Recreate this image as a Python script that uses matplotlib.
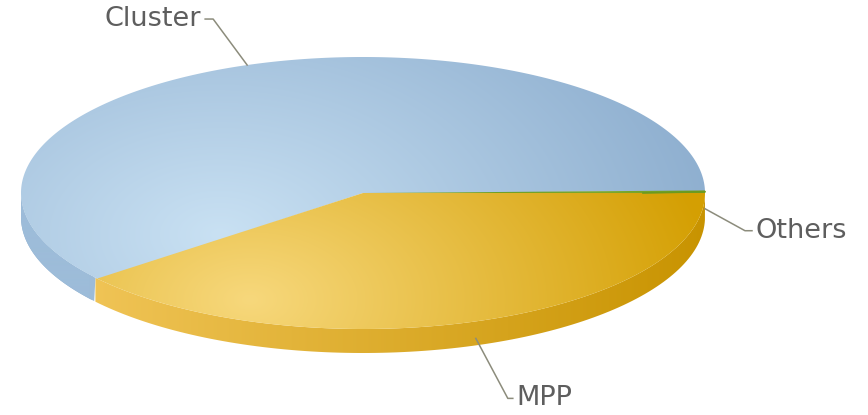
import matplotlib
matplotlib.use('Agg')
import matplotlib.pyplot as plt
import numpy as np
from matplotlib.path import Path
from matplotlib.patches import PathPatch
from matplotlib.colors import to_rgb

# data (drawn clockwise from 3 o'clock)
labels = ['MPP', 'Cluster', 'Others']
values = [39.3, 60.4, 0.3]

# look of each slice: top light, top dark, side light, side dark
top_light = {'MPP': '#f7d87c', 'Cluster': '#c9e1f3', 'Others': '#7aa82c'}
top_dark = {'MPP': '#d49f02', 'Cluster': '#8cadce', 'Others': '#5f8f1a'}
side_light = {'MPP': '#f0c456', 'Cluster': '#9dbcd9', 'Others': '#5f8f1a'}
side_dark = {'MPP': '#c89300', 'Cluster': '#86a7c8', 'Others': '#4f7f10'}

W, H = 868, 415
cx, cy, rx, ry, depth = 363, 193, 342, 136, 24

fig = plt.figure(figsize=(W / 100, H / 100), dpi=100)
ax = fig.add_axes([0, 0, 1, 1])
ax.set_xlim(0, W)
ax.set_ylim(H, 0)
ax.axis('off')

xx, yy = np.meshgrid(np.arange(W) + 0.5, np.arange(H) + 0.5)


def ell(theta, dy=0):
    t = np.radians(theta)
    return cx + rx * np.cos(t), cy - ry * np.sin(t) + dy


def fill_grad(verts, c1, c2, t, z):
    path = Path(verts, closed=True)
    patch = PathPatch(path, facecolor='none', edgecolor='none')
    ax.add_patch(patch)
    t = np.clip(t, 0, 1)[..., None]
    img = (1 - t) * np.array(to_rgb(c1)) + t * np.array(to_rgb(c2))
    im = ax.imshow(img, extent=(0, W, H, 0), zorder=z, interpolation='bilinear')
    im.set_clip_path(patch)
    ax.set_xlim(0, W)
    ax.set_ylim(H, 0)


# angles of slices
bounds = []
start = 0.0
tot = sum(values)
for v in values:
    end = start - 360.0 * v / tot
    bounds.append((start, end))
    start = end

# side walls (front half only)
for lab, (a1, a2) in zip(labels, bounds):
    lo, hi = max(min(a1, a2), -180), min(max(a1, a2), 0)
    if lo >= hi:
        continue
    th = np.linspace(hi, lo, 120)
    x1, y1 = ell(th)
    x2, y2 = ell(th[::-1], depth)
    verts = np.column_stack([np.r_[x1, x2], np.r_[y1, y2]])
    t = (xx - 90) / 620.0
    fill_grad(verts, side_light[lab], side_dark[lab], t, 2)

# cluster wraps round to the left front, up to the MPP edge
a_mpp = bounds[0][1]
th = np.linspace(a_mpp - 0.5, -180, 80)
x1, y1 = ell(th)
x2, y2 = ell(th[::-1], depth)
fill_grad(np.column_stack([np.r_[x1, x2], np.r_[y1, y2]]),
          side_light['Cluster'], side_dark['Cluster'], np.full(xx.shape, 0.6), 1.9)

# top faces (cluster first, a touch wider so no seams show)
centers = {'MPP': (250, 300, 470), 'Cluster': (220, 235, 520), 'Others': (600, 190, 300)}
order = [1, 0, 2]
for i in order:
    lab = labels[i]
    a1, a2 = bounds[i]
    pad = 1.0 if lab == 'Cluster' else 0.0
    th = np.linspace(a1 + pad, a2 - pad, 300)
    x, y = ell(th)
    verts = np.column_stack([np.r_[cx, x], np.r_[cy, y]])
    gx, gy, gr = centers[lab]
    t = np.hypot(xx - gx, (yy - gy) * 1.6) / gr
    fill_grad(verts, top_light[lab], top_dark[lab], t, 3 + order.index(i) * 0.1)

# thin green edge line for tiny slice
a1, a2 = bounds[2]
xo, yo = ell((a1 + a2) / 2)
ax.plot([cx + 280, xo], [cy, yo], color='#6b9a1f', lw=1.2, zorder=4)

# labels with leader lines
lead = '#8c8c7c'
txt = '#5e5e5e'
fs = 19.5
leaders = {
    'Cluster': [(0, 0), (-34, -46), (-42, -46)],
    'MPP': [(0, 17), (32, 77), (37, 77)],
    'Others': [(0, 17), (40, 39), (47, 39)],
}
for lab, (a1, a2) in zip(labels, bounds):
    mid = (a1 + a2) / 2
    px, py = ell(mid)
    pts = np.array(leaders[lab]) + [px, py]
    ax.plot(pts[:, 0], pts[:, 1], color=lead, lw=1.1, zorder=5)
    ha = 'right' if pts[-1, 0] < pts[-2, 0] else 'left'
    off = -4 if ha == 'right' else 4
    ax.text(pts[-1, 0] + off, pts[-1, 1], lab, ha=ha, va='center',
            fontsize=fs, color=txt, family='DejaVu Sans', zorder=6)

fig.savefig('out.png', dpi=100)
